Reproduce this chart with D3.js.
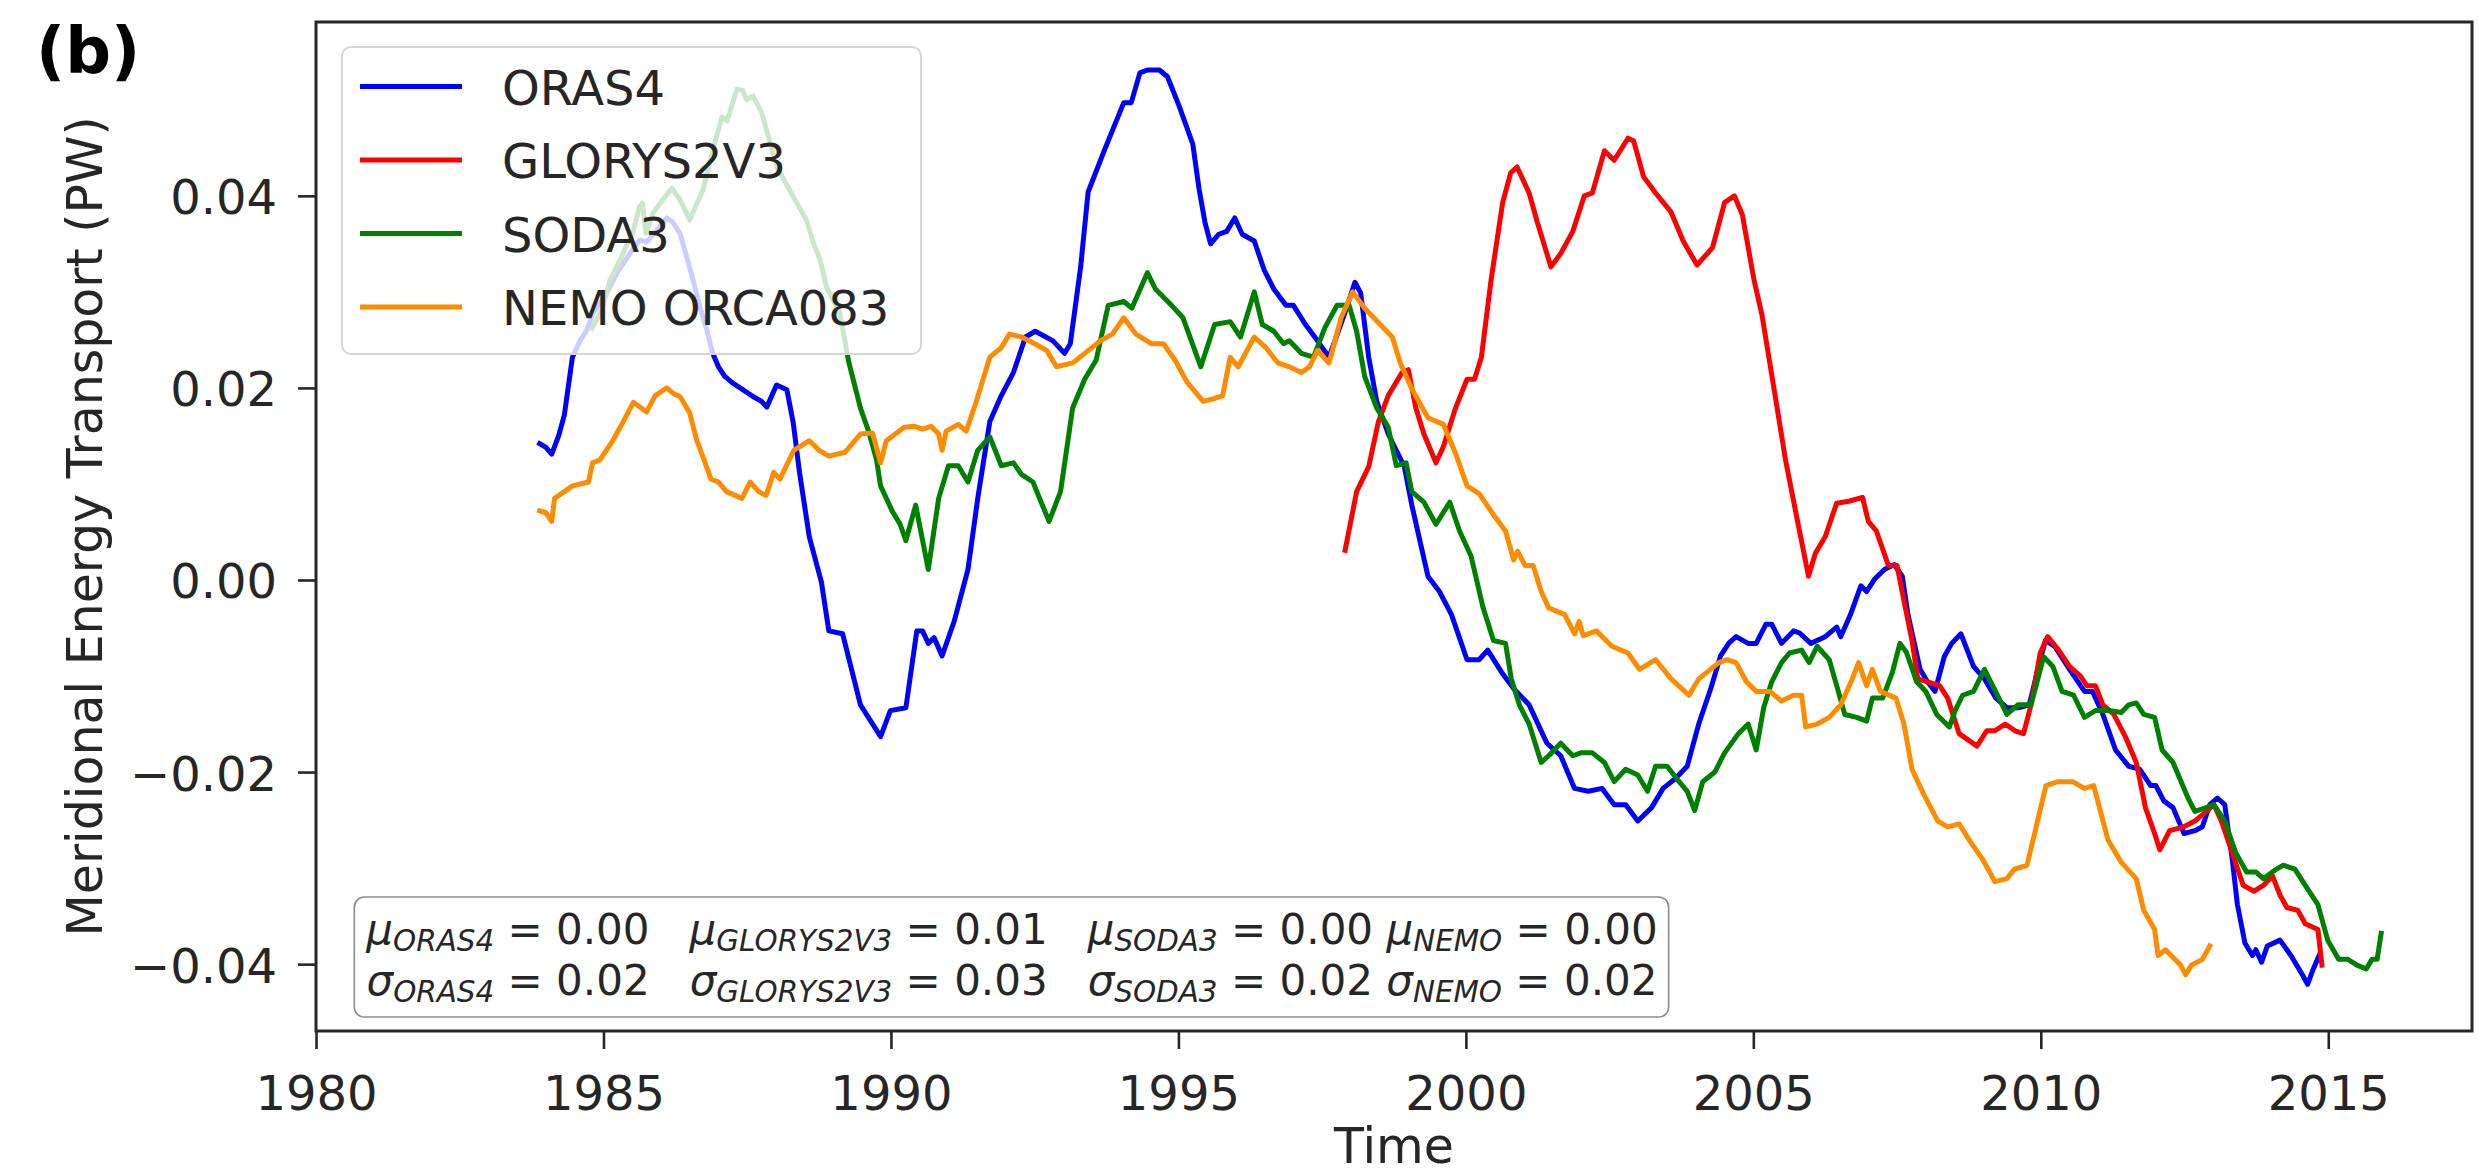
<!DOCTYPE html>
<html>
<head>
<meta charset="utf-8">
<script src="https://cdn.jsdelivr.net/npm/d3@7"></script>
<style>
  html, body { margin: 0; padding: 0; background: #ffffff; }
  svg { display: block; font-family: "DejaVu Sans", sans-serif; }
</style>
</head>
<body>
<svg id="chart" width="2479" height="1175"></svg>
<script>
// Smoothed meridional energy transport time series, [decimal year, PW]
const oras4 = [
  [1983.89,0.0142],[1984.00,0.0138],[1984.10,0.0131],[1984.22,0.0150],[1984.32,0.0172],[1984.46,0.0232],
  [1984.60,0.0250],[1984.71,0.0260],[1984.82,0.0278],[1985.06,0.0299],[1985.23,0.0319],[1985.46,0.0340],
  [1985.63,0.0354],[1985.75,0.0352],[1985.93,0.0364],[1986.10,0.0377],[1986.20,0.0373],[1986.33,0.0361],
  [1986.45,0.0336],[1986.56,0.0312],[1986.68,0.0284],[1986.80,0.0260],[1986.90,0.0236],[1987.00,0.0222],
  [1987.11,0.0212],[1987.25,0.0205],[1987.43,0.0198],[1987.60,0.0191],[1987.75,0.0186],[1987.84,0.0180],
  [1988.01,0.0203],[1988.19,0.0198],[1988.30,0.0164],[1988.41,0.0112],[1988.58,0.0045],[1988.79,-0.0002],
  [1988.92,-0.0053],[1989.16,-0.0056],[1989.47,-0.0130],[1989.82,-0.0163],[1989.99,-0.0136],[1990.26,-0.0133],
  [1990.45,-0.0053],[1990.55,-0.0053],[1990.65,-0.0066],[1990.75,-0.0060],[1990.89,-0.0079],[1991.10,-0.0043],
  [1991.34,0.0011],[1991.51,0.0085],[1991.72,0.0165],[1991.92,0.0192],[1992.13,0.0216],[1992.34,0.0253],
  [1992.51,0.0259],[1992.82,0.0249],[1993.02,0.0236],[1993.12,0.0246],[1993.30,0.0326],[1993.43,0.0404],
  [1993.71,0.0447],[1994.05,0.0497],[1994.18,0.0497],[1994.33,0.0528],[1994.46,0.0531],[1994.67,0.0531],
  [1994.81,0.0524],[1995.01,0.0494],[1995.25,0.0454],[1995.36,0.0407],[1995.46,0.0373],[1995.56,0.0350],
  [1995.70,0.0360],[1995.84,0.0363],[1995.98,0.0377],[1996.11,0.0360],[1996.32,0.0353],[1996.49,0.0323],
  [1996.66,0.0303],[1996.87,0.0286],[1997.00,0.0286],[1997.21,0.0266],[1997.42,0.0249],[1997.62,0.0232],
  [1997.90,0.0279],[1998.07,0.0310],[1998.17,0.0299],[1998.31,0.0232],[1998.45,0.0186],[1998.65,0.0152],
  [1998.93,0.0118],[1999.06,0.0078],[1999.34,0.0004],[1999.54,-0.0012],[1999.75,-0.0036],[2000.02,-0.0083],
  [2000.23,-0.0083],[2000.38,-0.0073],[2000.62,-0.0096],[2000.83,-0.0113],[2001.10,-0.0130],[2001.41,-0.0170],
  [2001.65,-0.0183],[2001.89,-0.0217],[2002.13,-0.0220],[2002.37,-0.0217],[2002.58,-0.0234],[2002.78,-0.0234],
  [2002.99,-0.0251],[2003.23,-0.0237],[2003.43,-0.0217],[2003.64,-0.0207],[2003.85,-0.0194],[2004.05,-0.0150],
  [2004.26,-0.0113],[2004.43,-0.0079],[2004.57,-0.0066],[2004.70,-0.0059],[2004.91,-0.0066],[2005.05,-0.0066],
  [2005.22,-0.0046],[2005.32,-0.0046],[2005.49,-0.0066],[2005.70,-0.0053],[2005.80,-0.0055],[2006.00,-0.0066],
  [2006.25,-0.0059],[2006.45,-0.0049],[2006.52,-0.0059],[2006.69,-0.0036],[2006.87,-0.0006],[2006.97,-0.0012],
  [2007.11,0.0001],[2007.28,0.0011],[2007.45,0.0016],[2007.59,0.0004],[2007.69,-0.0036],[2007.79,-0.0063],
  [2007.90,-0.0093],[2008.03,-0.0106],[2008.16,-0.0116],[2008.32,-0.0080],[2008.45,-0.0066],[2008.61,-0.0056],
  [2008.83,-0.0090],[2009.02,-0.0103],[2009.22,-0.0123],[2009.41,-0.0133],[2009.61,-0.0133],[2009.80,-0.0130],
  [2009.96,-0.0090],[2010.08,-0.0063],[2010.24,-0.0069],[2010.50,-0.0093],[2010.76,-0.0116],[2010.90,-0.0116],
  [2011.08,-0.0140],[2011.30,-0.0177],[2011.53,-0.0194],[2011.72,-0.0197],[2011.91,-0.0214],[2012.00,-0.0214],
  [2012.14,-0.0230],[2012.30,-0.0237],[2012.49,-0.0264],[2012.68,-0.0261],[2012.81,-0.0257],[2012.94,-0.0234],
  [2013.07,-0.0227],[2013.20,-0.0234],[2013.33,-0.0291],[2013.42,-0.0338],[2013.55,-0.0378],[2013.68,-0.0391],
  [2013.74,-0.0385],[2013.84,-0.0398],[2013.94,-0.0381],[2014.16,-0.0375],[2014.35,-0.0391],[2014.55,-0.0411],
  [2014.64,-0.0421],[2014.74,-0.0405],[2014.84,-0.0391]
];

const glorys2v3 = [
  [1997.90,0.0031],[1998.10,0.0092],[1998.31,0.0118],[1998.48,0.0165],[1998.65,0.0192],[1998.89,0.0216],
  [1999.00,0.0219],[1999.13,0.0179],[1999.27,0.0152],[1999.48,0.0122],[1999.61,0.0139],[1999.82,0.0179],
  [2000.02,0.0209],[2000.15,0.0209],[2000.27,0.0232],[2000.44,0.0313],[2000.64,0.0393],[2000.78,0.0424],
  [2000.89,0.0430],[2001.10,0.0403],[2001.24,0.0373],[2001.48,0.0326],[2001.65,0.0340],[2001.86,0.0363],
  [2002.06,0.0400],[2002.20,0.0403],[2002.41,0.0447],[2002.58,0.0437],[2002.82,0.0460],[2002.92,0.0457],
  [2003.09,0.0420],[2003.30,0.0403],[2003.57,0.0383],[2003.78,0.0353],[2004.02,0.0328],[2004.29,0.0346],
  [2004.50,0.0393],[2004.67,0.0400],[2004.81,0.0380],[2005.01,0.0313],[2005.15,0.0276],[2005.36,0.0199],
  [2005.56,0.0125],[2005.77,0.0061],[2005.96,0.0004],[2006.08,0.0028],[2006.25,0.0045],[2006.45,0.0080],
  [2006.66,0.0082],[2006.90,0.0086],[2007.00,0.0061],[2007.14,0.0051],[2007.35,0.0015],[2007.50,0.0015],
  [2007.62,-0.0022],[2007.76,-0.0063],[2007.86,-0.0103],[2008.03,-0.0106],[2008.24,-0.0110],[2008.38,-0.0123],
  [2008.58,-0.0160],[2008.89,-0.0173],[2009.06,-0.0157],[2009.20,-0.0157],[2009.38,-0.0150],[2009.55,-0.0157],
  [2009.70,-0.0160],[2009.83,-0.0130],[2009.99,-0.0076],[2010.12,-0.0059],[2010.31,-0.0073],[2010.50,-0.0090],
  [2010.69,-0.0100],[2010.80,-0.0110],[2010.95,-0.0110],[2011.08,-0.0130],[2011.27,-0.0140],[2011.47,-0.0163],
  [2011.66,-0.0190],[2011.82,-0.0237],[2011.98,-0.0264],[2012.07,-0.0281],[2012.24,-0.0261],[2012.49,-0.0257],
  [2012.68,-0.0251],[2012.88,-0.0241],[2013.01,-0.0234],[2013.14,-0.0251],[2013.33,-0.0284],[2013.52,-0.0318],
  [2013.71,-0.0324],[2013.87,-0.0318],[2014.03,-0.0308],[2014.16,-0.0328],[2014.28,-0.0341],[2014.47,-0.0344],
  [2014.60,-0.0358],[2014.82,-0.0364],[2014.89,-0.0401]
];

const soda3 = [
  [1984.80,0.0262],[1984.97,0.0281],[1985.11,0.0312],[1985.23,0.0326],[1985.34,0.0340],[1985.52,0.0364],
  [1985.63,0.0389],[1985.68,0.0392],[1985.74,0.0361],[1985.86,0.0382],[1986.07,0.0399],[1986.19,0.0408],
  [1986.33,0.0396],[1986.50,0.0375],[1986.73,0.0406],[1986.90,0.0447],[1987.06,0.0482],[1987.15,0.0478],
  [1987.32,0.0511],[1987.42,0.0510],[1987.49,0.0500],[1987.60,0.0504],[1987.75,0.0487],[1987.90,0.0455],
  [1988.02,0.0430],[1988.30,0.0399],[1988.53,0.0375],[1988.65,0.0351],[1988.77,0.0333],[1988.88,0.0305],
  [1989.11,0.0278],[1989.27,0.0226],[1989.47,0.0179],[1989.61,0.0155],[1989.75,0.0125],[1989.82,0.0098],
  [1990.02,0.0072],[1990.16,0.0058],[1990.26,0.0041],[1990.43,0.0078],[1990.65,0.0011],[1990.83,0.0085],
  [1991.00,0.0119],[1991.17,0.0119],[1991.34,0.0102],[1991.51,0.0135],[1991.72,0.0149],[1991.92,0.0119],
  [1992.13,0.0122],[1992.27,0.0110],[1992.47,0.0102],[1992.75,0.0061],[1992.95,0.0092],[1993.16,0.0179],
  [1993.37,0.0209],[1993.57,0.0229],[1993.78,0.0286],[1994.05,0.0290],[1994.19,0.0283],[1994.46,0.0320],
  [1994.60,0.0303],[1994.88,0.0286],[1995.08,0.0273],[1995.39,0.0222],[1995.63,0.0266],[1995.90,0.0269],
  [1996.08,0.0253],[1996.32,0.0300],[1996.46,0.0266],[1996.66,0.0259],[1996.83,0.0246],[1996.93,0.0249],
  [1997.14,0.0236],[1997.35,0.0232],[1997.55,0.0263],[1997.76,0.0286],[1997.97,0.0286],[1998.10,0.0259],
  [1998.24,0.0212],[1998.45,0.0179],[1998.65,0.0159],[1998.79,0.0119],[1998.96,0.0122],[1999.06,0.0092],
  [1999.27,0.0081],[1999.48,0.0058],[1999.72,0.0081],[1999.89,0.0051],[2000.09,0.0025],[2000.30,-0.0029],
  [2000.48,-0.0063],[2000.69,-0.0066],[2000.79,-0.0103],[2000.93,-0.0130],[2001.10,-0.0150],[2001.31,-0.0190],
  [2001.44,-0.0183],[2001.65,-0.0170],[2001.86,-0.0183],[2002.00,-0.0180],[2002.20,-0.0180],[2002.41,-0.0190],
  [2002.58,-0.0210],[2002.78,-0.0197],[2002.99,-0.0203],[2003.16,-0.0220],[2003.30,-0.0194],[2003.50,-0.0194],
  [2003.71,-0.0210],[2003.85,-0.0220],[2003.98,-0.0240],[2004.12,-0.0210],[2004.33,-0.0200],[2004.50,-0.0180],
  [2004.74,-0.0160],[2004.91,-0.0150],[2005.05,-0.0177],[2005.18,-0.0133],[2005.32,-0.0106],[2005.49,-0.0086],
  [2005.63,-0.0076],[2005.84,-0.0073],[2005.97,-0.0086],[2006.11,-0.0069],[2006.32,-0.0083],[2006.45,-0.0110],
  [2006.59,-0.0140],[2006.80,-0.0143],[2006.97,-0.0147],[2007.07,-0.0123],[2007.25,-0.0123],[2007.42,-0.0096],
  [2007.55,-0.0066],[2007.66,-0.0075],[2007.84,-0.0106],[2008.00,-0.0116],[2008.19,-0.0140],[2008.41,-0.0153],
  [2008.51,-0.0136],[2008.64,-0.0120],[2008.83,-0.0116],[2009.02,-0.0093],[2009.19,-0.0113],[2009.41,-0.0140],
  [2009.60,-0.0130],[2009.83,-0.0130],[2010.05,-0.0080],[2010.21,-0.0090],[2010.37,-0.0116],[2010.57,-0.0120],
  [2010.76,-0.0143],[2010.95,-0.0136],[2011.21,-0.0136],[2011.40,-0.0138],[2011.53,-0.0130],[2011.66,-0.0128],
  [2011.79,-0.0140],[2011.98,-0.0143],[2012.11,-0.0177],[2012.30,-0.0190],[2012.56,-0.0227],[2012.68,-0.0241],
  [2012.88,-0.0237],[2013.01,-0.0234],[2013.20,-0.0251],[2013.39,-0.0284],[2013.58,-0.0304],[2013.74,-0.0304],
  [2013.87,-0.0311],[2014.10,-0.0301],[2014.22,-0.0297],[2014.42,-0.0301],[2014.60,-0.0318],[2014.82,-0.0338],
  [2014.99,-0.0375],[2015.18,-0.0395],[2015.34,-0.0395],[2015.50,-0.0401],[2015.66,-0.0405],[2015.76,-0.0395],
  [2015.85,-0.0395],[2015.92,-0.0368]
];

const nemoOrca083 = [
  [1983.89,0.0072],[1984.00,0.0070],[1984.10,0.0061],[1984.15,0.0085],[1984.46,0.0098],[1984.74,0.0102],
  [1984.81,0.0122],[1984.94,0.0125],[1985.17,0.0146],[1985.30,0.0160],[1985.52,0.0185],[1985.75,0.0175],
  [1985.90,0.0192],[1986.10,0.0200],[1986.22,0.0194],[1986.33,0.0191],[1986.50,0.0174],[1986.62,0.0146],
  [1986.75,0.0125],[1986.87,0.0105],[1987.00,0.0102],[1987.14,0.0092],[1987.41,0.0085],[1987.55,0.0102],
  [1987.70,0.0092],[1987.83,0.0088],[1987.96,0.0112],[1988.07,0.0105],[1988.31,0.0135],[1988.58,0.0145],
  [1988.75,0.0135],[1988.92,0.0129],[1989.20,0.0133],[1989.47,0.0152],[1989.68,0.0153],[1989.82,0.0122],
  [1989.92,0.0145],[1990.23,0.0159],[1990.41,0.0160],[1990.55,0.0157],[1990.70,0.0160],[1990.83,0.0152],
  [1990.89,0.0135],[1990.96,0.0155],[1991.17,0.0162],[1991.31,0.0155],[1991.48,0.0185],[1991.72,0.0232],
  [1991.92,0.0242],[1992.06,0.0256],[1992.27,0.0253],[1992.50,0.0246],[1992.71,0.0239],[1992.88,0.0222],
  [1993.16,0.0226],[1993.37,0.0236],[1993.64,0.0249],[1993.85,0.0256],[1994.05,0.0273],[1994.26,0.0256],
  [1994.53,0.0246],[1994.74,0.0246],[1994.94,0.0229],[1995.15,0.0206],[1995.43,0.0186],[1995.63,0.0189],
  [1995.77,0.0192],[1995.90,0.0232],[1996.04,0.0222],[1996.32,0.0253],[1996.52,0.0242],[1996.73,0.0226],
  [1996.93,0.0222],[1997.14,0.0216],[1997.28,0.0222],[1997.42,0.0239],[1997.62,0.0226],[1997.83,0.0273],
  [1998.03,0.0300],[1998.24,0.0283],[1998.51,0.0266],[1998.72,0.0253],[1998.86,0.0226],[1999.06,0.0199],
  [1999.34,0.0169],[1999.61,0.0162],[1999.82,0.0132],[2000.02,0.0098],[2000.23,0.0090],[2000.48,0.0068],
  [2000.69,0.0051],[2000.83,0.0021],[2000.90,0.0030],[2001.03,0.0015],[2001.17,0.0015],[2001.31,-0.0012],
  [2001.44,-0.0029],[2001.72,-0.0036],[2001.89,-0.0056],[2001.97,-0.0043],[2002.04,-0.0058],[2002.27,-0.0053],
  [2002.54,-0.0069],[2002.82,-0.0076],[2003.02,-0.0093],[2003.30,-0.0083],[2003.57,-0.0103],[2003.88,-0.0120],
  [2004.05,-0.0103],[2004.40,-0.0086],[2004.54,-0.0083],[2004.70,-0.0086],[2004.88,-0.0106],[2005.05,-0.0116],
  [2005.29,-0.0116],[2005.49,-0.0126],[2005.70,-0.0120],[2005.84,-0.0120],[2005.91,-0.0153],[2006.11,-0.0150],
  [2006.32,-0.0143],[2006.52,-0.0130],[2006.70,-0.0106],[2006.83,-0.0086],[2006.97,-0.0110],[2007.07,-0.0093],
  [2007.21,-0.0116],[2007.48,-0.0123],[2007.62,-0.0150],[2007.76,-0.0197],[2007.97,-0.0224],[2008.21,-0.0251],
  [2008.38,-0.0257],[2008.58,-0.0254],[2008.79,-0.0274],[2008.99,-0.0291],[2009.20,-0.0314],[2009.41,-0.0311],
  [2009.54,-0.0301],[2009.76,-0.0297],[2009.92,-0.0257],[2010.09,-0.0214],[2010.30,-0.0210],[2010.55,-0.0210],
  [2010.76,-0.0217],[2010.92,-0.0214],[2011.17,-0.0271],[2011.40,-0.0294],[2011.66,-0.0311],[2011.79,-0.0344],
  [2011.98,-0.0364],[2012.04,-0.0391],[2012.17,-0.0385],[2012.43,-0.0401],[2012.52,-0.0411],[2012.62,-0.0401],
  [2012.81,-0.0395],[2012.94,-0.0381]
];

const seriesLabels = ["ORAS4", "GLORYS2V3", "SODA3", "NEMO ORCA083"];
const seriesColors = ["#0000ff", "#ff0000", "#008000", "#ff8c00"];
const seriesData = [oras4, glorys2v3, soda3, nemoOrca083];

const xTickValues = [1980, 1985, 1990, 1995, 2000, 2005, 2010, 2015];
const yTickValues = [-0.04, -0.02, 0.00, 0.02, 0.04];

// summary statistics shown in the annotation box
const statNames = ["ORAS4", "GLORYS2V3", "SODA3", "NEMO"];
const statMean = ["0.00", "0.01", "0.00", "0.00"];
const statStd = ["0.02", "0.03", "0.02", "0.02"];
const statGaps = ["   ", "   ", " ", ""];

// ---------------------------------------------------------------------------
const ink = "#262626";
const svg = d3.select("#chart");
const plot = { left: 316, right: 2472, top: 22, bottom: 1031 };

const x = d3.scaleLinear().domain([1980, 2017.5]).range([plot.left, plot.right]);
const y = d3.scaleLinear().domain([-0.04696, 0.0581]).range([plot.bottom, plot.top]);

svg.append("rect").attr("width", 2479).attr("height", 1175).attr("fill", "#ffffff");

// data lines, clipped to the axes
svg.append("clipPath").attr("id", "plot-clip")
  .append("rect")
  .attr("x", plot.left).attr("y", plot.top)
  .attr("width", plot.right - plot.left).attr("height", plot.bottom - plot.top);

const line = d3.line().x(d => x(d[0])).y(d => y(d[1]));
const lines = svg.append("g").attr("clip-path", "url(#plot-clip)");
seriesData.forEach((data, i) => {
  lines.append("path")
    .datum(data)
    .attr("d", line)
    .attr("fill", "none")
    .attr("stroke", seriesColors[i])
    .attr("stroke-width", 5)
    .attr("stroke-linejoin", "round")
    .attr("stroke-linecap", "square");
});

// axes
const tickFont = 48;
const xAxis = svg.append("g")
  .attr("transform", `translate(0,${plot.bottom})`)
  .call(d3.axisBottom(x).tickValues(xTickValues).tickSize(18).tickFormat(d3.format("d")));
xAxis.select(".domain").remove();
xAxis.selectAll(".tick line").attr("stroke", ink).attr("stroke-width", 2.6);
xAxis.selectAll(".tick text")
  .attr("y", 79).attr("dy", null)
  .attr("fill", ink)
  .style("font-family", "DejaVu Sans")
  .style("font-size", tickFont + "px");

const yAxis = svg.append("g")
  .attr("transform", `translate(${plot.left},0)`)
  .call(d3.axisLeft(y).tickValues(yTickValues).tickSize(18).tickFormat(d3.format(".2f")));
yAxis.select(".domain").remove();
yAxis.selectAll(".tick line").attr("stroke", ink).attr("stroke-width", 2.6);
yAxis.selectAll(".tick text")
  .attr("x", -39).attr("dy", null).attr("y", 18)
  .attr("fill", ink)
  .style("font-family", "DejaVu Sans")
  .style("font-size", tickFont + "px");

// axes frame
svg.append("rect")
  .attr("x", plot.left).attr("y", plot.top)
  .attr("width", plot.right - plot.left).attr("height", plot.bottom - plot.top)
  .attr("fill", "none").attr("stroke", ink).attr("stroke-width", 3);

// axis titles
svg.append("text")
  .attr("x", (plot.left + plot.right) / 2).attr("y", 1163)
  .attr("text-anchor", "middle")
  .attr("fill", ink)
  .style("font-size", "49px")
  .text("Time");

svg.append("text")
  .attr("transform", `translate(102,${(plot.top + plot.bottom) / 2}) rotate(-90)`)
  .attr("text-anchor", "middle")
  .attr("fill", ink)
  .style("font-size", "49px")
  .text("Meridional Energy Transport (PW)");

// panel tag
svg.append("text")
  .attr("x", 36).attr("y", 73)
  .attr("fill", "#000000")
  .style("font-size", "64px")
  .style("font-weight", "bold")
  .text("(b)");

// legend
const legend = svg.append("g");
legend.append("rect")
  .attr("x", 342).attr("y", 47).attr("width", 579).attr("height", 307)
  .attr("rx", 9).attr("ry", 9)
  .attr("fill", "#ffffff").attr("fill-opacity", 0.8)
  .attr("stroke", "#d6d6d6").attr("stroke-width", 2);
seriesLabels.forEach((label, i) => {
  const base = 104.5 + i * 73.5;
  legend.append("line")
    .attr("x1", 360).attr("x2", 462)
    .attr("y1", base - 18).attr("y2", base - 18)
    .attr("stroke", seriesColors[i]).attr("stroke-width", 5);
  legend.append("text")
    .attr("x", 502).attr("y", base)
    .attr("fill", ink)
    .style("font-size", "48px")
    .text(label);
});

// statistics annotation
const statSize = 42, subSize = 29.4, subDrop = 7;
const statGroup = svg.append("g");
const statBox = statGroup.append("rect");
function statLine(symbol, values, baseline) {
  const t = statGroup.append("text")
    .attr("x", 1012).attr("y", baseline)
    .attr("text-anchor", "middle")
    .attr("fill", ink)
    .attr("xml:space", "preserve")
    .style("white-space", "pre")
    .style("font-size", statSize + "px");
  statNames.forEach((name, i) => {
    t.append("tspan").style("font-style", "italic").text(symbol);
    t.append("tspan").attr("dy", subDrop)
      .style("font-style", "italic").style("font-size", subSize + "px").text(name);
    t.append("tspan").attr("dy", -subDrop).text(" = " + values[i] + statGaps[i]);
  });
  return t;
}
const l1 = statLine("\u03bc", statMean, 944);
const l2 = statLine("\u03c3", statStd, 995);
const b1 = l1.node().getBBox(), b2 = l2.node().getBBox();
const bx0 = Math.min(b1.x, b2.x) - 11, bx1 = Math.max(b1.x + b1.width, b2.x + b2.width) + 11;
statBox
  .attr("x", bx0).attr("y", 897)
  .attr("width", bx1 - bx0).attr("height", 120)
  .attr("rx", 10).attr("ry", 10)
  .attr("fill", "#ffffff")
  .attr("stroke", "#8c8c8c").attr("stroke-width", 1.6);
</script>
</body>
</html>
